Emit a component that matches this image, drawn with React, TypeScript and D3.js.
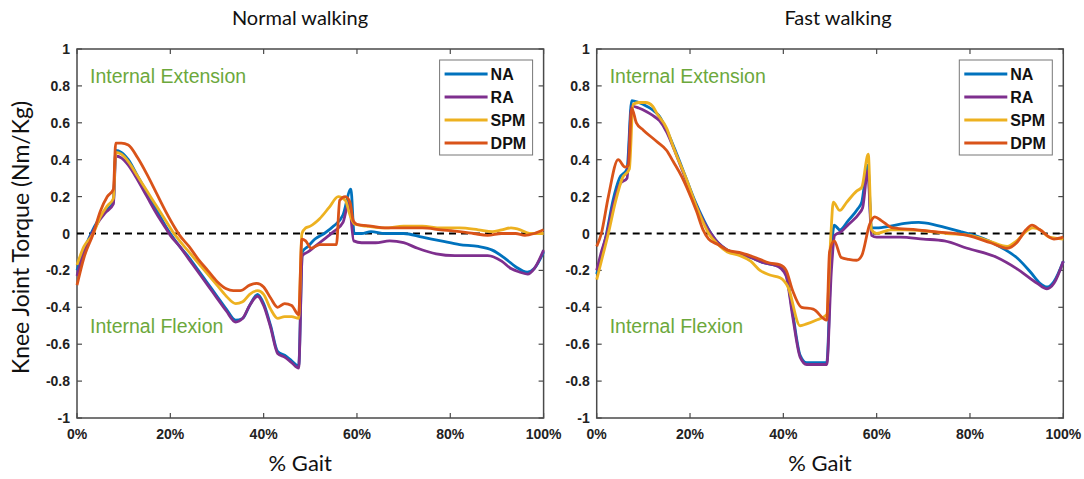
import { useEffect, useRef } from 'react';
import * as d3 from 'd3';

type Pt = [number, number];

// series labels and colours (MATLAB default order)
const seriesNames = ['NA', 'RA', 'SPM', 'DPM'];
const seriesColors = ['#0072BD', '#7E2F8E', '#EDB120', '#D95319'];

const panelTitles = ['Normal walking', 'Fast walking'];
const xTicks = [0, 20, 40, 60, 80, 100];
const yTicks = [-1, -0.8, -0.6, -0.4, -0.2, 0, 0.2, 0.4, 0.6, 0.8, 1];

// Normal walking, [% gait, torque]
const normalNA: Pt[] = [
  [0, -0.2], [1.5, -0.09], [3, 0], [4.5, 0.07], [6, 0.12], [7.8, 0.17], [8.3, 0.45], [9.5, 0.44],
  [11, 0.4], [13, 0.31], [15, 0.22], [17, 0.13], [19, 0.04], [20, 0], [22, -0.07], [24, -0.13],
  [26, -0.2], [28, -0.27], [30, -0.34], [32, -0.41], [34, -0.47], [35.5, -0.46], [37, -0.39],
  [38.7, -0.33], [40, -0.38], [41.5, -0.5], [43, -0.64], [44.5, -0.66], [46, -0.69], [47.5, -0.72],
  [48.3, -0.1], [49.5, -0.07], [51, -0.03], [53, 0], [55, 0.04], [57, 0.1], [58.7, 0.24], [59.4, 0],
  [61, 0], [63, 0.01], [66, 0], [70, 0], [74, -0.02], [78, -0.04], [82, -0.06], [86, -0.07],
  [89, -0.09], [92, -0.14], [94, -0.18], [96.5, -0.21], [98, -0.19], [100, -0.1],
];
const normalRA: Pt[] = [
  [0, -0.23], [1.5, -0.1], [3.2, 0], [4.5, 0.06], [6, 0.11], [7.8, 0.16], [8.3, 0.42], [9.5, 0.41],
  [11, 0.37], [13, 0.29], [15, 0.2], [17, 0.11], [19, 0.03], [20, -0.01], [22, -0.07], [24, -0.14],
  [26, -0.21], [28, -0.28], [30, -0.35], [32, -0.42], [34, -0.48], [35.5, -0.46], [37, -0.39],
  [38.7, -0.34], [40, -0.39], [41.5, -0.51], [43, -0.65], [44.5, -0.67], [46, -0.7], [47.5, -0.73],
  [48.3, -0.12], [49.5, -0.1], [51, -0.07], [53, -0.03], [55, 0.01], [57, 0.06], [58.3, 0.17],
  [59.3, -0.04], [61, -0.05], [64, -0.05], [67, -0.04], [70, -0.05], [73, -0.08], [77, -0.11],
  [81, -0.12], [85, -0.12], [88, -0.12], [91, -0.15], [93, -0.19], [95, -0.21], [96.6, -0.22],
  [98, -0.19], [100, -0.09],
];
const normalSPM: Pt[] = [
  [0, -0.17], [1.5, -0.07], [3.5, 0], [5, 0.09], [6.5, 0.15], [7.8, 0.19], [8.3, 0.44], [9.5, 0.43],
  [11, 0.39], [13, 0.31], [15, 0.23], [17, 0.15], [19, 0.07], [20.5, 0.01], [22, -0.04], [24, -0.1],
  [26, -0.16], [28, -0.22], [30, -0.28], [32, -0.34], [34, -0.38], [35.5, -0.37], [37, -0.33],
  [38.7, -0.31], [40, -0.33], [41.5, -0.41], [43, -0.46], [44.5, -0.45], [46, -0.45], [47.5, -0.46],
  [48.2, 0], [49, 0.03], [50, 0.04], [52, 0.08], [54, 0.14], [56, 0.2], [57.5, 0.18], [58.5, 0.1],
  [59.5, 0.05], [62, 0.04], [66, 0.03], [70, 0.04], [74, 0.04], [78, 0.03], [82, 0.03], [86, 0.02],
  [89, 0.01], [91, 0.02], [93, 0.03], [95, 0.02], [97, 0], [100, 0],
];
const normalDPM: Pt[] = [
  [0, -0.28], [1.5, -0.13], [3.5, 0], [5, 0.12], [6.5, 0.2], [7.8, 0.24], [8.3, 0.49], [9.5, 0.49],
  [11, 0.48], [13, 0.41], [15, 0.32], [17, 0.22], [19, 0.12], [21, 0.03], [22, -0.01], [24, -0.07],
  [26, -0.14], [28, -0.2], [30, -0.26], [32, -0.3], [33.5, -0.31], [35, -0.31], [37, -0.28],
  [38.5, -0.27], [40, -0.29], [41.5, -0.35], [43, -0.4], [44.5, -0.38], [46, -0.39], [47.5, -0.44],
  [48.2, -0.03], [49, -0.04], [50.2, -0.08], [52, -0.06], [54, -0.06], [55.6, -0.06], [56.3, 0.18],
  [57.5, 0.2], [58.5, 0.17], [59.2, 0.07], [60, 0.05], [63, 0.04], [66, 0.03], [70, 0.03], [74, 0.03],
  [78, 0.02], [82, 0.01], [85, 0], [88, -0.01], [91, 0], [94, 0], [96, -0.01], [98, 0], [100, 0.02],
];

// Fast walking
const fastNA: Pt[] = [
  [0, -0.22], [1, -0.12], [2.1, 0], [3.5, 0.18], [4.9, 0.3], [6.5, 0.35], [7.5, 0.72], [9, 0.71],
  [10.7, 0.69], [12, 0.67], [13.3, 0.64], [15, 0.56], [17, 0.44], [19, 0.31], [21, 0.18], [23, 0.07],
  [24.5, 0], [26, -0.05], [28, -0.09], [30, -0.11], [32, -0.12], [34, -0.14], [36, -0.16], [38, -0.17],
  [39.5, -0.18], [40.6, -0.22], [42, -0.43], [43.6, -0.66], [45, -0.7], [47, -0.7], [49.3, -0.7],
  [50.3, -0.1], [50.9, 0.045], [52.1, 0.02], [53.9, 0.07], [56, 0.135], [56.8, 0.17], [58.1, 0.37],
  [58.9, 0.03], [60, 0.03], [63, 0.04], [66, 0.055], [69, 0.06], [72, 0.05], [75, 0.03], [78, 0.01],
  [81, -0.01], [84, -0.04], [87, -0.08], [90, -0.13], [93, -0.21], [95, -0.27], [96.5, -0.29],
  [98, -0.26], [100, -0.15],
];
const fastRA: Pt[] = [
  [0, -0.2], [1, -0.1], [2.2, 0], [3.5, 0.15], [5, 0.27], [6.5, 0.3], [7.5, 0.69], [9, 0.68],
  [10.7, 0.66], [12, 0.64], [13.5, 0.61], [15, 0.55], [17, 0.43], [19, 0.3], [21, 0.17], [23, 0.06],
  [24.5, 0], [26, -0.05], [28, -0.09], [30, -0.11], [32, -0.12], [34, -0.14], [36, -0.16], [38, -0.17],
  [39.5, -0.19], [40.6, -0.23], [42, -0.45], [43.6, -0.67], [45, -0.71], [47, -0.71], [49.3, -0.71],
  [50.3, -0.2], [51, -0.01], [52.4, 0.01], [54, 0.05], [56.3, 0.11], [57, 0.14], [58.1, 0.34],
  [58.9, -0.01], [60, -0.02], [65, -0.02], [70, -0.03], [74.5, -0.04], [79.4, -0.08], [85.8, -0.13],
  [90, -0.19], [94.4, -0.27], [96.5, -0.3], [98, -0.27], [100, -0.15],
];
const fastSPM: Pt[] = [
  [0, -0.25], [1.2, -0.13], [2.5, 0], [4, 0.17], [5.5, 0.3], [7, 0.35], [7.8, 0.7], [9, 0.71],
  [10.5, 0.71], [12, 0.69], [12.9, 0.65], [15, 0.57], [16.4, 0.47], [19.3, 0.29], [21.4, 0.145],
  [23, 0.05], [24, 0], [26, -0.06], [28, -0.1], [30.7, -0.12], [33, -0.15], [35, -0.2], [37.1, -0.225],
  [39.3, -0.24], [41, -0.29], [43.6, -0.5], [45, -0.49], [47, -0.47], [49.3, -0.44], [50.2, 0],
  [50.7, 0.17], [52.1, 0.125], [53.6, 0.17], [55.7, 0.23], [56.8, 0.25], [58.2, 0.43], [58.9, 0.02],
  [60, 0], [63, 0.02], [66, 0.02], [70, 0.015], [75, 0], [80, -0.01], [84, -0.04], [88, -0.07],
  [90, -0.04], [92.5, 0.02], [93.5, 0.03], [95, 0.02], [97, -0.02], [100, -0.03],
];
const fastDPM: Pt[] = [
  [0, -0.07], [1, 0], [2.5, 0.2], [4.6, 0.4], [6.1, 0.36], [6.8, 0.37], [7.5, 0.68], [8.5, 0.6],
  [10, 0.56], [12.8, 0.5], [15, 0.45], [16.4, 0.39], [18.2, 0.31], [19.3, 0.25], [21.4, 0.12],
  [22.8, 0.02], [24, -0.03], [26, -0.06], [28, -0.09], [31.1, -0.106], [34, -0.13], [37.1, -0.16],
  [39.3, -0.17], [40.6, -0.2], [42, -0.31], [43.9, -0.4], [46.4, -0.41], [49.3, -0.47], [49.9, -0.1],
  [50.9, -0.04], [52.4, -0.13], [54, -0.14], [55.7, -0.145], [56.8, -0.12], [58.5, 0.05], [59.6, 0.09],
  [61, 0.07], [63.5, 0.03], [68.7, 0.02], [72.3, 0.01], [79.4, -0.01], [84.4, -0.05], [88, -0.08],
  [90, -0.05], [92, 0.02], [93.3, 0.045], [95, 0.02], [98, -0.03], [100, -0.02],
];

const panelSeries = [
  [normalNA, normalRA, normalSPM, normalDPM],
  [fastNA, fastRA, fastSPM, fastDPM],
];

const W = 1084;
const H = 479;
const GREEN = '#6CA83C';

const KneeTorqueChart = () => {
  const svgRef = useRef<SVGSVGElement>(null);

  useEffect(() => {
    if (!svgRef.current) return;
    const svg = d3.select(svgRef.current);
    svg.selectAll('*').remove();

    const top = 49;
    const bottom = 418;
    const panelLeft = [77, 596.7];
    const panelWidth = 466.6;
    const titleX = [300, 838];

    const y = d3.scaleLinear().domain([-1, 1]).range([bottom, top]);

    // y label (shared, left)
    svg
      .append('text')
      .attr('transform', `translate(29,${(top + bottom) / 2 + 4}) rotate(-90)`)
      .attr('text-anchor', 'middle')
      .attr('font-family', 'Lato, "Open Sans", sans-serif')
      .attr('font-size', 23)
      .attr('fill', '#111')
      .text('Knee Joint Torque (Nm/Kg)');

    panelSeries.forEach((series, p) => {
      const x0 = panelLeft[p];
      const x1 = x0 + panelWidth;
      const x = d3.scaleLinear().domain([0, 100]).range([x0, x1]);
      const g = svg.append('g');

      // title
      g.append('text')
        .attr('x', titleX[p])
        .attr('y', 25)
        .attr('text-anchor', 'middle')
        .attr('font-family', 'Lato, "Open Sans", sans-serif')
        .attr('font-size', 20)
        .attr('fill', '#111')
        .text(panelTitles[p]);

      // x label
      g.append('text')
        .attr('x', (x0 + x1) / 2 - 10)
        .attr('y', 471)
        .attr('text-anchor', 'middle')
        .attr('font-family', 'Lato, "Open Sans", sans-serif')
        .attr('font-size', 22)
        .attr('fill', '#111')
        .text('% Gait');

      // inward ticks, MATLAB box style
      const tickLen = 5;
      const axisColor = '#4a4a4a';
      xTicks.forEach((t) => {
        g.append('line')
          .attr('x1', x(t)).attr('x2', x(t))
          .attr('y1', bottom).attr('y2', bottom - tickLen)
          .attr('stroke', axisColor).attr('stroke-width', 1.2);
        g.append('line')
          .attr('x1', x(t)).attr('x2', x(t))
          .attr('y1', top).attr('y2', top + tickLen)
          .attr('stroke', axisColor).attr('stroke-width', 1.2);
        g.append('text')
          .attr('x', x(t))
          .attr('y', 439)
          .attr('text-anchor', 'middle')
          .attr('font-family', '"Liberation Sans", Arial, sans-serif')
          .attr('font-weight', 'bold')
          .attr('font-size', 14)
          .attr('fill', '#222')
          .text(`${t}%`);
      });
      yTicks.forEach((t) => {
        g.append('line')
          .attr('x1', x0).attr('x2', x0 + tickLen)
          .attr('y1', y(t)).attr('y2', y(t))
          .attr('stroke', axisColor).attr('stroke-width', 1.2);
        g.append('line')
          .attr('x1', x1).attr('x2', x1 - tickLen)
          .attr('y1', y(t)).attr('y2', y(t))
          .attr('stroke', axisColor).attr('stroke-width', 1.2);
        g.append('text')
          .attr('x', x0 - 7)
          .attr('y', y(t) + 5)
          .attr('text-anchor', 'end')
          .attr('font-family', '"Liberation Sans", Arial, sans-serif')
          .attr('font-weight', 'bold')
          .attr('font-size', 14)
          .attr('fill', '#222')
          .text(String(t));
      });

      // box
      g.append('rect')
        .attr('x', x0).attr('y', top)
        .attr('width', panelWidth).attr('height', bottom - top)
        .attr('fill', 'none')
        .attr('stroke', axisColor)
        .attr('stroke-width', 1.5);

      // zero reference
      g.append('line')
        .attr('x1', x(0)).attr('x2', x(100))
        .attr('y1', y(0)).attr('y2', y(0))
        .attr('stroke', '#000')
        .attr('stroke-width', 2)
        .attr('stroke-dasharray', '7,5');

      // curves
      const line = d3
        .line<Pt>()
        .x((d) => x(d[0]))
        .y((d) => y(d[1]))
        .curve(d3.curveMonotoneX);
      series.forEach((data, i) => {
        g.append('path')
          .datum(data)
          .attr('d', line)
          .attr('fill', 'none')
          .attr('stroke', seriesColors[i])
          .attr('stroke-width', 2.8)
          .attr('stroke-linejoin', 'round');
      });

      // annotations
      g.append('text')
        .attr('x', x0 + 13)
        .attr('y', 83)
        .attr('font-family', '"Liberation Sans", Arial, sans-serif')
        .attr('font-size', 19.5)
        .attr('fill', GREEN)
        .text('Internal Extension');
      g.append('text')
        .attr('x', x0 + 13)
        .attr('y', 333)
        .attr('font-family', '"Liberation Sans", Arial, sans-serif')
        .attr('font-size', 19.5)
        .attr('fill', GREEN)
        .text('Internal Flexion');

      // legend
      const lx = x1 - 104;
      const legend = g.append('g');
      legend
        .append('rect')
        .attr('x', lx).attr('y', 60)
        .attr('width', 93).attr('height', 95)
        .attr('fill', '#fff')
        .attr('stroke', '#777')
        .attr('stroke-width', 1);
      seriesNames.forEach((name, i) => {
        const ly = 74 + i * 23;
        legend
          .append('line')
          .attr('x1', lx + 5).attr('x2', lx + 48)
          .attr('y1', ly).attr('y2', ly)
          .attr('stroke', seriesColors[i])
          .attr('stroke-width', 2.8);
        legend
          .append('text')
          .attr('x', lx + 51)
          .attr('y', ly + 6)
          .attr('font-family', '"Liberation Sans", Arial, sans-serif')
          .attr('font-weight', 'bold')
          .attr('font-size', 16)
          .attr('fill', '#111')
          .text(name);
      });
    });
  }, []);

  return (
    <div style={{ position: 'absolute', left: 0, top: 0, background: '#fff' }}>
      <svg ref={svgRef} width={W} height={H} style={{ display: 'block' }}></svg>
    </div>
  );
};

export default KneeTorqueChart;
